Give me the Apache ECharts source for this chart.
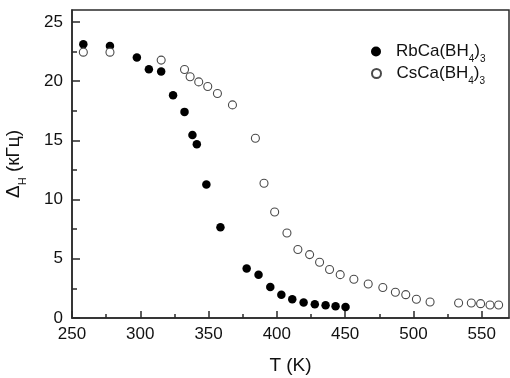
<!DOCTYPE html>
<html>
<head>
<meta charset="utf-8">
<script src="https://cdn.jsdelivr.net/npm/echarts@6/dist/echarts.min.js"></script>
<style>html,body{margin:0;padding:0;background:#fff;}#c{width:510px;height:378px;}</style>
</head>
<body>
<div id="c"></div>
<script>
// RbCa(BH4)3 (filled circles)
const rbT = [258.3, 277.8, 297.5, 306.3, 315.3, 324.0, 332.4, 338.2, 341.4, 348.4, 358.7, 377.9, 386.6, 395.2, 403.3, 411.3, 419.6, 427.8, 435.7, 443.0, 450.3];
const rbH = [23.1, 22.97, 22.0, 21.0, 20.8, 18.8, 17.4, 15.45, 14.67, 11.27, 7.66, 4.17, 3.66, 2.62, 1.97, 1.58, 1.30, 1.16, 1.07, 0.99, 0.93];
// CsCa(BH4)3 (open circles)
const csT = [258.3, 277.8, 315.3, 332.4, 336.5, 342.8, 349.4, 356.5, 367.5, 384.3, 390.6, 398.4, 407.4, 415.4, 424.0, 431.3, 438.6, 446.4, 456.4, 466.9, 477.6, 486.8, 494.4, 502.2, 512.2, 533.1, 542.4, 549.2, 556.1, 562.4];
const csH = [22.44, 22.44, 21.77, 20.98, 20.36, 19.93, 19.54, 18.95, 17.99, 15.18, 11.38, 8.95, 7.18, 5.78, 5.35, 4.70, 4.09, 3.66, 3.27, 2.87, 2.57, 2.17, 1.97, 1.58, 1.35, 1.27, 1.27, 1.21, 1.10, 1.10];
// axis ticks
const xMajor = [250, 300, 350, 400, 450, 500, 550];
const xMinor = [275, 325, 375, 425, 475, 525];
const yMajor = [0, 5, 10, 15, 20, 25];
const yMinor = [2.5, 7.5, 12.5, 17.5, 22.5];
const seriesNames = ['RbCa(BH4)3', 'CsCa(BH4)3'];

const FONT = 'Liberation Sans, Arial, sans-serif';
const AX = '#2a2a2a';
const TXT = '#111';
const pairs = (xs, ys) => xs.map((x, i) => [x, ys[i]]);
const legendRich = {
  n: {fontSize: 17, fontFamily: FONT, color: TXT, lineHeight: 26, verticalAlign: 'middle'},
  s: {fontSize: 10, fontFamily: FONT, color: TXT, lineHeight: 8, verticalAlign: 'bottom'}
};
const legendFmt = name => {
  const m = name.match(/^(.*\(BH)4\)3$/);
  return '{n|' + m[1] + '}{s|4}{n|)}{s|3}';
};

const chart = echarts.init(document.getElementById('c'), null, {renderer: 'canvas'});
chart.setOption({
  animation: false,
  backgroundColor: '#fff',
  grid: {left: 72, right: 1, top: 10, bottom: 60, containLabel: false, outerBoundsMode: 'none',
         show: true, borderColor: AX, borderWidth: 1.5, backgroundColor: 'transparent'},
  legend: [
    {data: [seriesNames[0]], left: 371, top: 43, padding: 0, itemWidth: 10, itemHeight: 10, itemGap: 0,
     icon: 'circle', formatter: legendFmt, textStyle: {rich: legendRich, padding: [0, 0, 0, 10]}},
    {data: [seriesNames[1]], left: 371, top: 65, padding: 0, itemWidth: 10, itemHeight: 9, itemGap: 0,
     icon: 'circle', formatter: legendFmt, textStyle: {rich: legendRich, padding: [0, 0, 0, 10]}}
  ],
  xAxis: [
    {type: 'value', min: 250, max: 570, interval: 50, position: 'bottom',
     name: 'T (K)', nameLocation: 'middle', nameGap: 38,
     nameTextStyle: {fontSize: 19, fontFamily: FONT, color: TXT},
     axisLine: {lineStyle: {color: AX, width: 1.5}},
     axisTick: {inside: true, length: 7, customValues: xMajor, lineStyle: {color: AX, width: 1.5}},
     axisLabel: {customValues: xMajor, fontSize: 17, fontFamily: FONT, color: TXT, margin: 8},
     splitLine: {show: false}},
    {type: 'value', min: 250, max: 570, interval: 25, position: 'bottom',
     axisLine: {show: false},
     axisTick: {inside: true, length: 4, customValues: xMinor, lineStyle: {color: AX, width: 1.5}},
     axisLabel: {show: false}, splitLine: {show: false}}
  ],
  yAxis: [
    {type: 'value', min: 0, max: 26, interval: 5, position: 'left',
     name: '{n|Δ}{s|H}{n| (кГц)}', nameLocation: 'middle', nameGap: 44,
     nameTextStyle: {fontSize: 19, fontFamily: FONT, color: TXT, rich: {
       n: {fontSize: 19, fontFamily: FONT, color: TXT, lineHeight: 28, verticalAlign: 'middle'},
       s: {fontSize: 11, fontFamily: FONT, color: TXT, lineHeight: 9, verticalAlign: 'bottom'}
     }},
     axisLine: {lineStyle: {color: AX, width: 1.5}},
     axisTick: {inside: true, length: 8, customValues: yMajor, lineStyle: {color: AX, width: 1.5}},
     axisLabel: {customValues: yMajor, fontSize: 17, fontFamily: FONT, color: TXT, margin: 9},
     splitLine: {show: false}},
    {type: 'value', min: 0, max: 26, interval: 2.5, position: 'left',
     axisLine: {show: false},
     axisTick: {inside: true, length: 5, customValues: yMinor, lineStyle: {color: AX, width: 1.5}},
     axisLabel: {show: false}, splitLine: {show: false}}
  ],
  series: [
    {name: seriesNames[0], type: 'scatter', xAxisIndex: 0, yAxisIndex: 0,
     symbol: 'circle', symbolSize: 8.5, data: pairs(rbT, rbH),
     itemStyle: {color: '#000', borderColor: '#000', borderWidth: 0, opacity: 1}},
    {name: seriesNames[1], type: 'scatter', xAxisIndex: 0, yAxisIndex: 0,
     symbol: 'circle', symbolSize: 8, data: pairs(csT, csH),
     itemStyle: {color: '#fff', borderColor: '#4a4a4a', borderWidth: 1.1, opacity: 1}}
  ]
});
</script>
</body>
</html>
